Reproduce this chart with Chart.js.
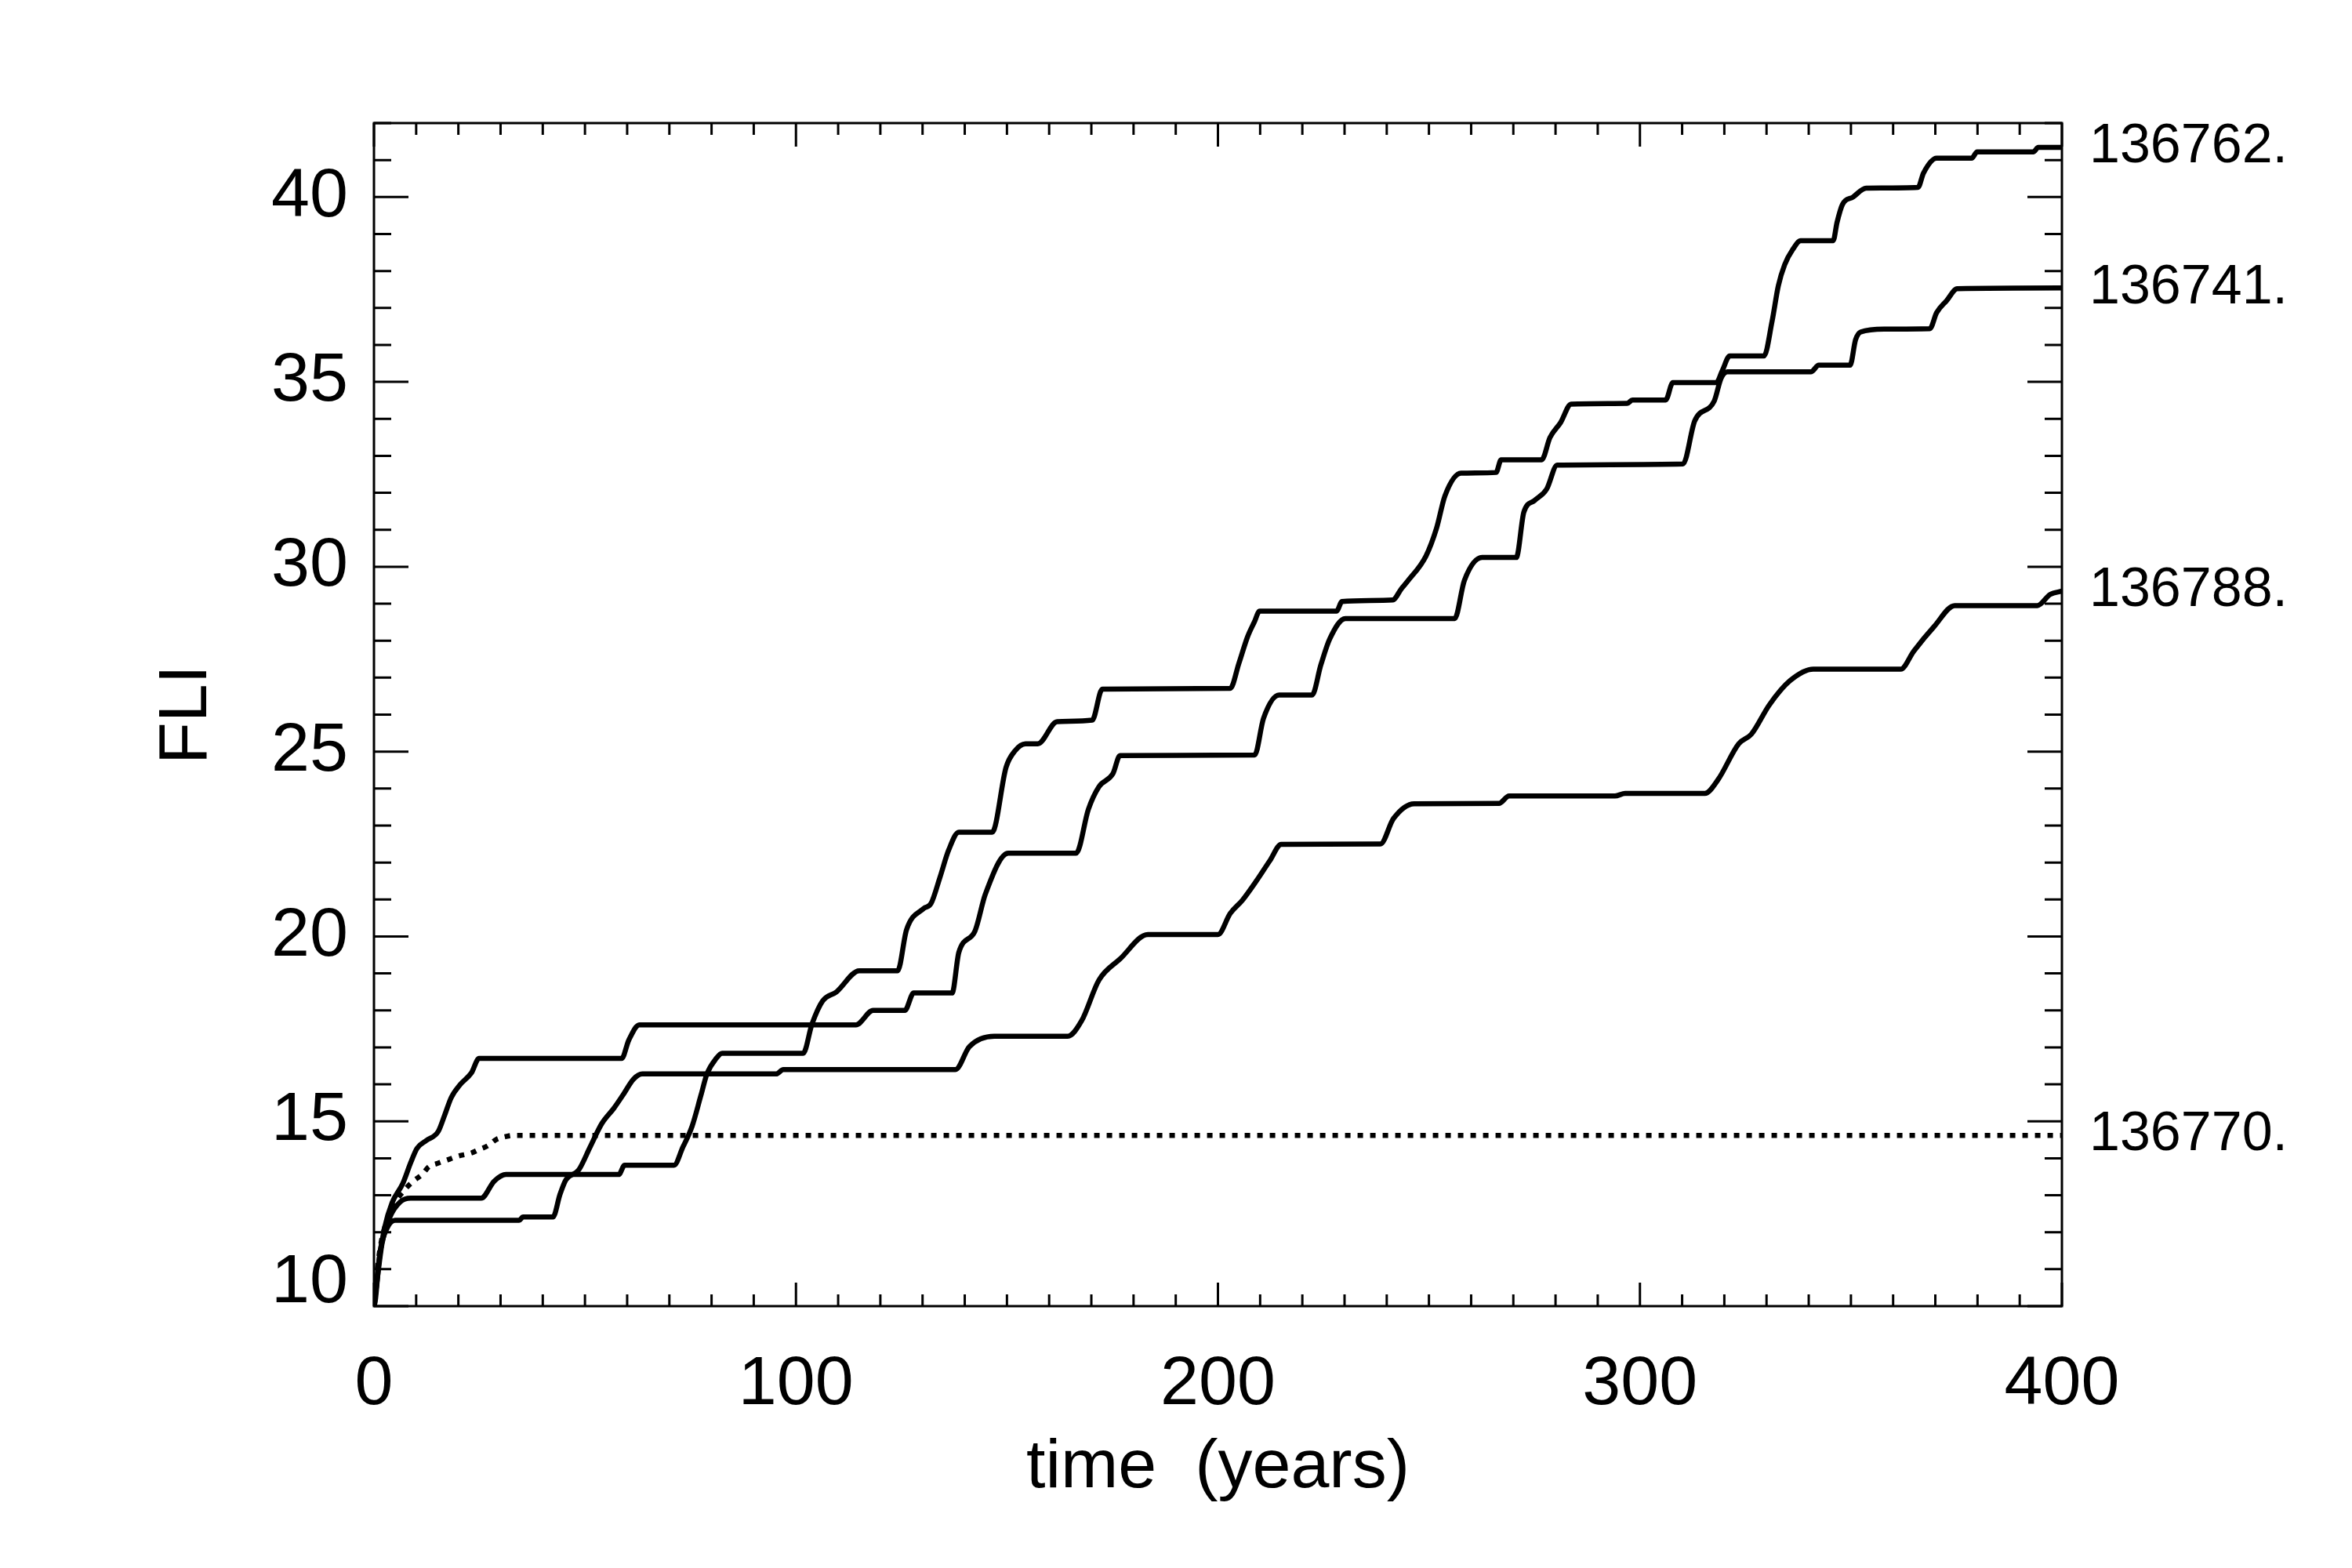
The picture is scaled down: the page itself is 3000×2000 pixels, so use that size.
<!DOCTYPE html>
<html>
<head>
<meta charset="utf-8">
<title>FLI vs time</title>
<script src="https://cdn.jsdelivr.net/npm/chart.js@4.4.1/dist/chart.umd.min.js"></script>
<style>
  html, body { margin: 0; padding: 0; background: #fff; }
  #wrap { width: 3000px; height: 2000px; }
</style>
</head>
<body>
<div id="wrap"><canvas id="fliChart" width="3000" height="2000"></canvas></div>
<script>
// Noms des orbites (étiquettes à droite)
const orbitNames = ['136762.', '136741.', '136788.', '136770.'];

// Courbe 136762.
const timeA = [0, 0.6, 1.9, 3.7, 6.2, 8.7, 25.4, 28.5, 31.3, 58, 59.4, 71.1, 73.2, 75.4, 77.5, 78.9, 81.1, 82.5, 101.7, 103.8, 106.3, 109.6, 115, 124.1, 126.2, 130.3, 132, 134.1, 136.2, 138.6, 146.5, 149.8, 151.9, 154.4, 157.3, 161.9, 170.2, 172.6, 202.9, 205, 207, 208.6, 209.9, 228.1, 229.4, 241.4, 243.5, 245.1, 249.3, 251.8, 253.8, 257.6, 265.9, 267.1, 276.7, 278.7, 281.2, 283.7, 297, 298.2, 306.1, 307.8, 318.1, 319.5, 321.3, 329.4, 331.3, 332.8, 334.3, 336.2, 338.1, 345.8, 346.7, 348, 350.5, 353.6, 365.9, 367.2, 370.3, 378.6, 379.9, 393.2, 394.4, 400];
const fliA = [10, 10.55, 11.68, 12.39, 12.82, 12.92, 12.92, 13.38, 13.56, 13.56, 13.81, 13.81, 14.3, 14.87, 15.71, 16.28, 16.7, 16.84, 16.84, 17.63, 18.25, 18.5, 19.07, 19.07, 20.18, 20.76, 20.89, 21.59, 22.34, 22.82, 22.82, 24.58, 25.02, 25.21, 25.21, 25.81, 25.85, 26.69, 26.71, 27.4, 28.1, 28.5, 28.8, 28.8, 29.06, 29.1, 29.41, 29.63, 30.29, 31.04, 31.92, 32.53, 32.55, 32.89, 32.89, 33.5, 33.9, 34.4, 34.42, 34.51, 34.51, 34.98, 34.98, 35.3, 35.7, 35.7, 36.63, 37.6, 38.17, 38.58, 38.82, 38.82, 39.31, 39.8, 40.0, 40.24, 40.26, 40.65, 41.05, 41.05, 41.22, 41.22, 41.34, 41.34];

// Courbe 136741.
const timeB = [0, 0.3, 1.24, 2.5, 4.3, 6.8, 8.7, 10.2, 12.4, 15.2, 16.7, 18.3, 20.4, 23.1, 24.9, 58.7, 60.4, 62.9, 114.2, 118.3, 125.8, 127.9, 137, 138.6, 142.4, 144.9, 150.3, 166.4, 169.3, 171.8, 175.1, 176.8, 208.7, 210.8, 214.5, 222.3, 224.4, 226.5, 230.2, 256.1, 258.4, 262.6, 270.7, 272.5, 275, 277.9, 280.4, 310.2, 313, 317.6, 319.2, 320.7, 340.5, 342.4, 349.8, 351.1, 352.3, 357.9, 368.7, 370.3, 372.7, 375.2, 400];
const fliB = [10, 10.13, 11.26, 12.11, 12.8, 13.31, 13.88, 14.27, 14.48, 14.72, 15.15, 15.64, 15.99, 16.31, 16.7, 16.7, 17.2, 17.61, 17.61, 18.0, 18.0, 18.47, 18.47, 19.57, 20.14, 21.15, 22.25, 22.25, 23.44, 24.05, 24.4, 24.89, 24.91, 25.9, 26.53, 26.53, 27.35, 28.05, 28.6, 28.6, 29.63, 30.25, 30.25, 31.48, 31.79, 32.1, 32.75, 32.78, 33.95, 34.48, 35.09, 35.27, 35.27, 35.45, 35.45, 36.14, 36.35, 36.43, 36.44, 36.87, 37.2, 37.52, 37.54];

// Courbe 136788.
const timeC = [0, 0.3, 1.55, 3.1, 5, 34.4, 35.3, 42.4, 44.1, 45.5, 48.5, 51.2, 54, 56.9, 59, 61.5, 63.6, 95.3, 97, 137.8, 141.1, 147, 164.4, 167.7, 171.8, 176.8, 183.4, 200, 202.9, 205.8, 209.1, 212.3, 215, 238.5, 241.6, 246.5, 266.6, 269, 294.1, 296.5, 315.4, 318.5, 323.4, 326.4, 330.7, 335.6, 341.1, 361.8, 364.9, 369.7, 374.6, 394.2, 397.2, 400];
const fliC = [10, 10.3, 11.54, 12.11, 12.32, 12.32, 12.41, 12.41, 13.03, 13.42, 13.68, 14.3, 14.94, 15.36, 15.71, 16.14, 16.28, 16.28, 16.4, 16.4, 17.02, 17.3, 17.3, 17.72, 18.82, 19.39, 20.05, 20.05, 20.62, 20.98, 21.5, 22.05, 22.49, 22.5, 23.19, 23.59, 23.6, 23.8, 23.8, 23.87, 23.87, 24.24, 25.21, 25.47, 26.27, 26.92, 27.23, 27.23, 27.72, 28.38, 28.95, 28.95, 29.25, 29.34];

// Courbe 136770. (pointillés)
const timeD = [0, 0.5, 1.5, 3, 5, 7.3, 9.3, 11.5, 13, 15, 18, 20, 23, 25, 27, 29, 31, 33, 400];
const fliD = [10, 10.7, 11.6, 12.3, 12.8, 13.15, 13.38, 13.57, 13.77, 13.86, 13.98, 14.06, 14.14, 14.24, 14.34, 14.51, 14.58, 14.62, 14.62];

// Axes
const xRange = [0, 400];
const yRange = [10, 42];
const xMajorStep = 100, xMinorStep = 10;
const yMajorStep = 5, yMinorStep = 1;

const FONT = 'Liberation Sans';

function toPoints(times, values) {
    return times.map((t, i) => ({ x: t, y: values[i] }));
}

function makeDataset(label, times, values, dash) {
    return {
        label: label,
        data: toPoints(times, values),
        borderColor: '#000',
        borderWidth: 6.5,
        borderDash: dash || [],
        borderCapStyle: 'butt',
        pointRadius: 0,
        fill: false,
        cubicInterpolationMode: 'monotone'
    };
}

// Cadre à la IDL : ticks vers l'intérieur sur les quatre côtés + étiquettes à droite
const idlFrame = {
    id: 'idlFrame',
    afterDatasetsDraw(chart) {
        const { ctx, chartArea: a, scales: { x, y } } = chart;
        ctx.save();
        ctx.strokeStyle = '#000';
        ctx.lineWidth = 3;
        ctx.lineCap = 'butt';
        ctx.strokeRect(a.left, a.top, a.right - a.left, a.bottom - a.top);

        ctx.beginPath();
        for (let t = xRange[0]; t <= xRange[1]; t += xMinorStep) {
            const px = x.getPixelForValue(t);
            const len = t % xMajorStep === 0 ? 30 : 15;
            ctx.moveTo(px, a.bottom); ctx.lineTo(px, a.bottom - len);
            ctx.moveTo(px, a.top); ctx.lineTo(px, a.top + len);
        }
        for (let v = yRange[0]; v <= yRange[1]; v += yMinorStep) {
            const py = y.getPixelForValue(v);
            const len = v % yMajorStep === 0 ? 44 : 22;
            ctx.moveTo(a.left, py); ctx.lineTo(a.left + len, py);
            ctx.moveTo(a.right, py); ctx.lineTo(a.right - len, py);
        }
        ctx.stroke();

        // Étiquettes des orbites, à la hauteur de la dernière valeur
        ctx.fillStyle = '#000';
        ctx.font = '70px "' + FONT + '"';
        ctx.textAlign = 'left';
        ctx.textBaseline = 'middle';
        chart.data.datasets.forEach(ds => {
            const last = ds.data[ds.data.length - 1];
            ctx.fillText(ds.label, a.right + 35, y.getPixelForValue(last.y));
        });
        ctx.restore();
    }
};

const ctx = document.getElementById('fliChart').getContext('2d');
const fliChart = new Chart(ctx, {
    type: 'line',
    data: {
        datasets: [
            makeDataset(orbitNames[0], timeA, fliA),
            makeDataset(orbitNames[1], timeB, fliB),
            makeDataset(orbitNames[2], timeC, fliC),
            makeDataset(orbitNames[3], timeD, fliD, [7, 9])
        ]
    },
    options: {
        responsive: false,
        animation: false,
        devicePixelRatio: 1,
        layout: { padding: { top: 157, right: 370, left: 0, bottom: 0 } },
        plugins: {
            legend: { display: false },
            tooltip: { enabled: false }
        },
        scales: {
            x: {
                type: 'linear',
                min: xRange[0],
                max: xRange[1],
                bounds: 'data',
                grid: { display: false, drawTicks: false },
                border: { display: false },
                ticks: {
                    stepSize: xMajorStep,
                    maxRotation: 0,
                    autoSkip: false,
                    padding: 48,
                    color: '#000',
                    font: { family: FONT, size: 88 }
                },
                title: {
                    display: true,
                    text: 'time  (years)',
                    color: '#000',
                    font: { family: FONT, size: 88, lineHeight: 1.2 },
                    padding: { top: 0, bottom: 74 }
                },
                afterFit(scale) { scale.height = 334; }
            },
            y: {
                min: yRange[0],
                max: yRange[1],
                bounds: 'data',
                grid: { display: false, drawTicks: false },
                border: { display: false },
                ticks: {
                    stepSize: yMajorStep,
                    autoSkip: false,
                    padding: 33,
                    color: '#000',
                    font: { family: FONT, size: 88, lineHeight: 0.66 },
                    // le "10" du bas est remonté comme dans l'original
                    callback: v => v === yRange[0] ? [String(v), ''] : String(v)
                },
                // seulement les multiples de 5 (pas de 42 en haut)
                afterBuildTicks(scale) {
                    scale.ticks = scale.ticks.filter(t => t.value % yMajorStep === 0);
                },
                title: {
                    display: true,
                    text: 'FLI',
                    color: '#000',
                    font: { family: FONT, size: 88, lineHeight: 1.2 },
                    padding: { top: 186, bottom: 0 }
                },
                afterFit(scale) { scale.width = 477; }
            }
        }
    },
    plugins: [idlFrame]
});
</script>
</body>
</html>
